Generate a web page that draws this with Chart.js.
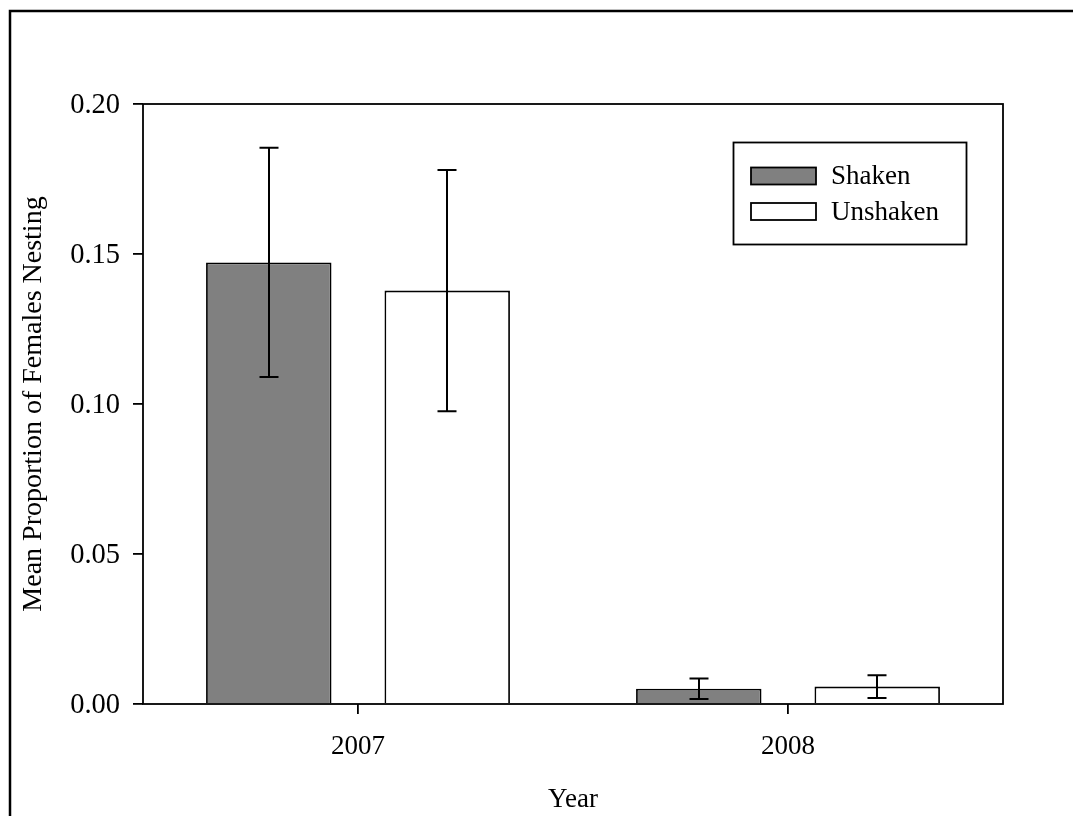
<!DOCTYPE html>
<html>
<head>
<meta charset="utf-8">
<title>Mean Proportion of Females Nesting</title>
<script src="https://cdn.jsdelivr.net/npm/chart.js@4.4.1/dist/chart.umd.min.js"></script>
<style>
  html, body { margin: 0; padding: 0; background: #fff; }
  canvas { display: block; }
</style>
</head>
<body>
<canvas id="chart" width="1073" height="816"></canvas>
<script>
// Nesting proportions by year and treatment (mean ± SE)
const years = ['2007', '2008'];
const seriesNames = ['Shaken', 'Unshaken'];
const shakenMean = [0.1472, 0.0051];
const shakenErr = [0.0382, 0.0034];
const unshakenMean = [0.1378, 0.0058];
const unshakenErr = [0.0402, 0.0038];
const yTicks = [0, 0.05, 0.10, 0.15, 0.20];

const FONT = "'Liberation Serif', 'Times New Roman', serif";
const FONT_SIZE = 27;
const LINE = 1.8;

// Outer frame around the figure and box around the plot area
const framePlugin = {
  id: 'frame',
  beforeDraw(chart) {
    const ctx = chart.ctx;
    ctx.save();
    ctx.fillStyle = '#fff';
    ctx.fillRect(0, 0, chart.width, chart.height);
    ctx.strokeStyle = '#000';
    ctx.lineWidth = 2.5;
    ctx.strokeRect(10, 11, chart.width + 20, chart.height + 20);
    ctx.restore();
  },
  afterDatasetsDraw(chart) {
    const { ctx, chartArea: a } = chart;
    ctx.save();
    ctx.strokeStyle = '#000';
    ctx.lineWidth = LINE;
    ctx.strokeRect(a.left, a.top, a.right - a.left, a.bottom - a.top);
    ctx.restore();
  }
};

// Symmetric error bars with caps, drawn through the value scale
const errorBarPlugin = {
  id: 'errorBars',
  afterDatasetsDraw(chart) {
    const { ctx } = chart;
    const yScale = chart.scales.y;
    ctx.save();
    ctx.strokeStyle = '#000';
    ctx.lineWidth = 2;
    chart.data.datasets.forEach((ds, di) => {
      const meta = chart.getDatasetMeta(di);
      meta.data.forEach((bar, i) => {
        const v = ds.data[i];
        const e = ds.errors[i];
        const x = Math.round(bar.x);
        const yTop = yScale.getPixelForValue(v + e);
        const yBot = yScale.getPixelForValue(v - e);
        const cap = 9.5;
        ctx.beginPath();
        ctx.moveTo(x, yTop);
        ctx.lineTo(x, yBot);
        ctx.moveTo(x - cap, yTop);
        ctx.lineTo(x + cap, yTop);
        ctx.moveTo(x - cap, yBot);
        ctx.lineTo(x + cap, yBot);
        ctx.stroke();
      });
    });
    ctx.restore();
  }
};

// Boxed legend inside the upper right of the plot
const boxLegendPlugin = {
  id: 'boxLegend',
  afterDraw(chart) {
    const { ctx } = chart;
    const box = { x: 733.5, y: 142.5, w: 233, h: 102 };
    ctx.save();
    ctx.fillStyle = '#fff';
    ctx.fillRect(box.x, box.y, box.w, box.h);
    ctx.strokeStyle = '#000';
    ctx.lineWidth = LINE;
    ctx.strokeRect(box.x, box.y, box.w, box.h);
    const rows = [176, 211.5];
    chart.data.datasets.forEach((ds, i) => {
      const cy = rows[i];
      ctx.fillStyle = ds.backgroundColor;
      ctx.fillRect(751, cy - 8.5, 65, 17);
      ctx.lineWidth = LINE;
      ctx.strokeRect(751, cy - 8.5, 65, 17);
      ctx.fillStyle = '#000';
      ctx.font = FONT_SIZE + 'px ' + FONT;
      ctx.textAlign = 'left';
      ctx.textBaseline = 'middle';
      ctx.fillText(ds.label, 831, cy + 1);
    });
    ctx.restore();
  }
};

new Chart(document.getElementById('chart'), {
  type: 'bar',
  data: {
    labels: years,
    datasets: [
      {
        label: seriesNames[0],
        data: shakenMean,
        errors: shakenErr,
        backgroundColor: '#808080',
        borderColor: '#000',
        borderWidth: LINE,
        borderSkipped: 'start'
      },
      {
        label: seriesNames[1],
        data: unshakenMean,
        errors: unshakenErr,
        backgroundColor: '#ffffff',
        borderColor: '#000',
        borderWidth: LINE,
        borderSkipped: 'start'
      }
    ]
  },
  options: {
    responsive: false,
    animation: false,
    devicePixelRatio: 1,
    categoryPercentage: 0.83,
    barPercentage: 0.703,
    layout: { padding: { left: 0, top: 104, right: 70, bottom: 0 } },
    plugins: {
      legend: { display: false },
      tooltip: { enabled: false }
    },
    scales: {
      x: {
        afterFit(scale) { scale.height = 112; },
        grid: {
          display: true,
          offset: false,
          drawOnChartArea: false,
          drawTicks: true,
          tickLength: 10,
          color: '#000',
          lineWidth: LINE
        },
        border: { display: false },
        ticks: {
          color: '#000',
          padding: 17,
          font: { family: FONT, size: FONT_SIZE }
        },
        title: {
          display: true,
          text: 'Year',
          color: '#000',
          padding: { top: 0, bottom: 0 },
          font: { family: FONT, size: FONT_SIZE }
        }
      },
      y: {
        min: 0,
        max: 0.2,
        afterFit(scale) { scale.width = 143; },
        afterBuildTicks(scale) { scale.ticks = yTicks.map(v => ({ value: v })); },
        grid: {
          display: true,
          drawOnChartArea: false,
          drawTicks: true,
          tickLength: 10,
          color: '#000',
          lineWidth: LINE
        },
        border: { display: false },
        ticks: {
          color: '#000',
          padding: 13,
          labelOffset: 2,
          font: { family: FONT, size: 28.5 },
          callback: v => Number(v).toFixed(2)
        },
        title: {
          display: true,
          text: 'Mean Proportion of Females Nesting',
          color: '#000',
          padding: { top: 17, bottom: 0 },
          font: { family: FONT, size: 28 }
        }
      }
    }
  },
  plugins: [framePlugin, errorBarPlugin, boxLegendPlugin]
});
</script>
</body>
</html>
